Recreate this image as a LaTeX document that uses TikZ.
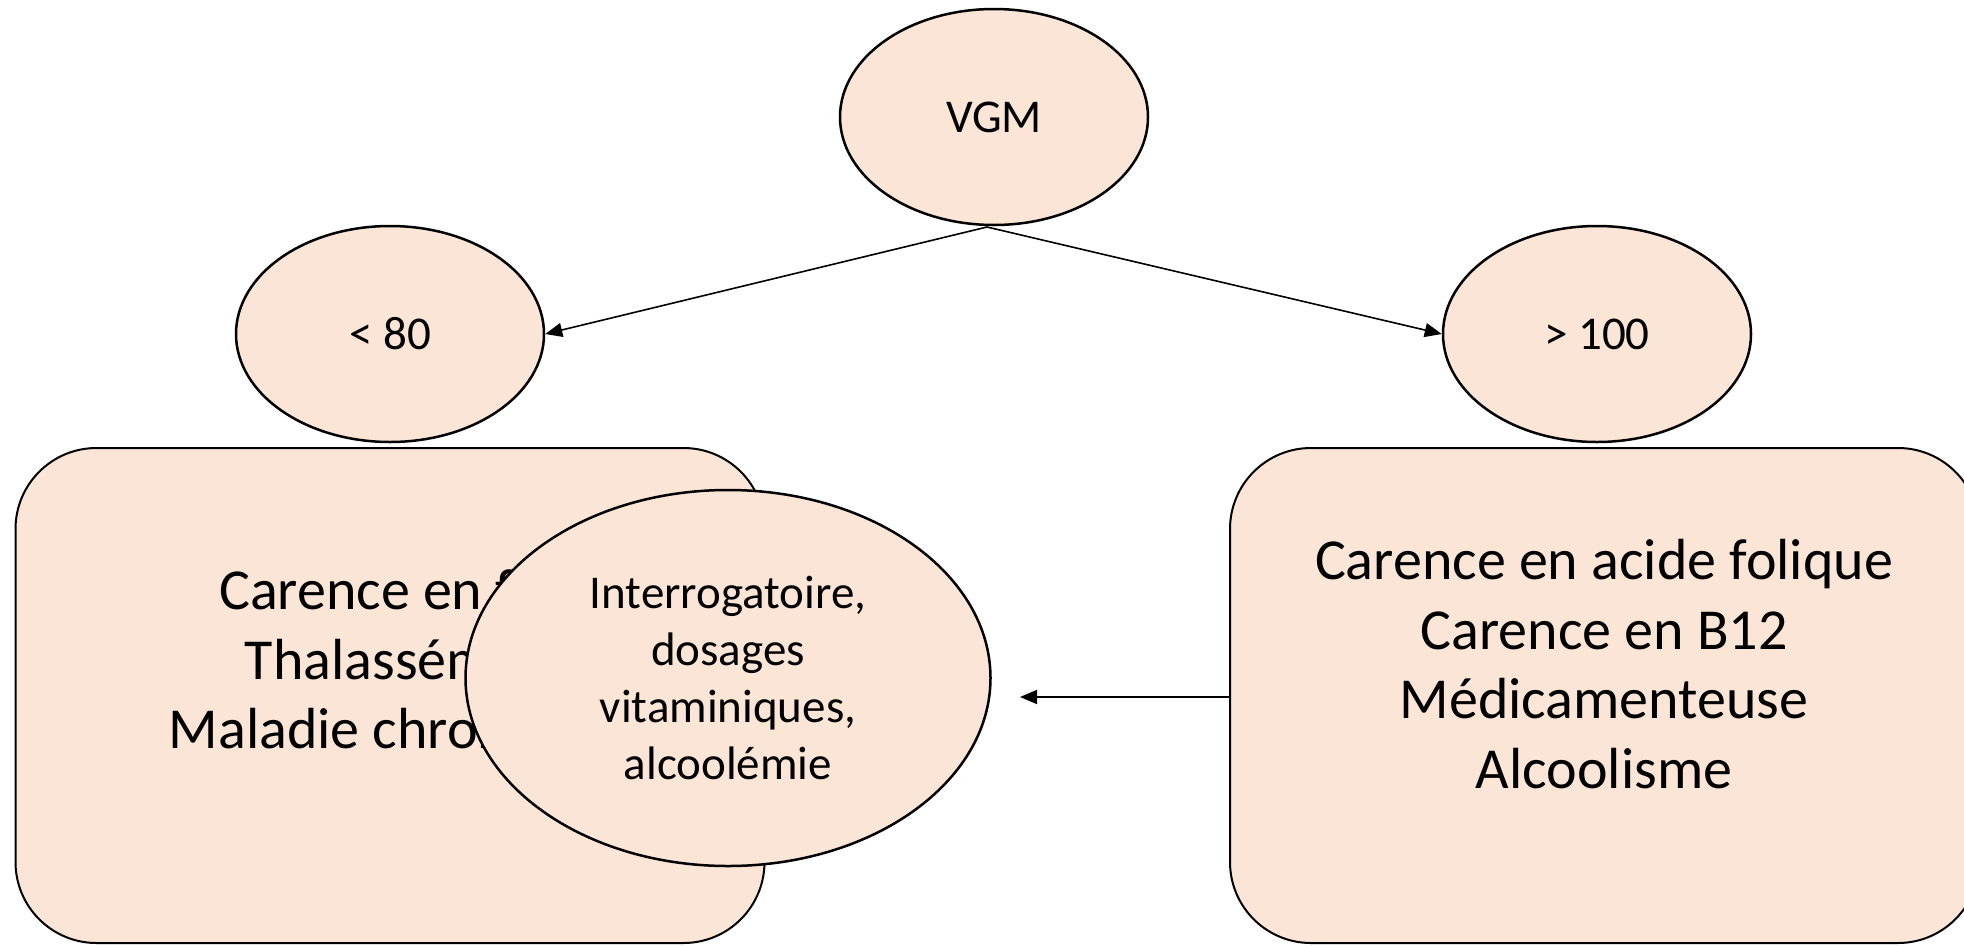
\documentclass[tikz,border=0pt]{standalone}
\usepackage{fontspec}
\setmainfont{Carlito}
\usetikzlibrary{shapes.geometric,arrows.meta}
\definecolor{peach}{HTML}{FBE5D6}
\tikzset{
  bubble/.style={ellipse, draw=black, line width=2.5pt, fill=peach, inner sep=0pt,
    font=\fontsize{47}{57}\selectfont, align=center},
  card/.style={rectangle, rounded corners=81pt, draw=black, line width=2pt, fill=peach, inner sep=0pt},
  cardtext/.style={font=\fontsize{58}{69.5}\selectfont, align=center, inner sep=0pt},
  link/.style={draw=black, line width=1.6pt, -{Triangle[length=17pt,width=14pt]}}
}
\begin{document}
\begin{tikzpicture}[x=1pt,y=-1pt]
  \useasboundingbox (0,0) rectangle (1964,945);
  \clip (0,0) rectangle (1964,945);

  % root and the two ranges
  \node[bubble, minimum width=308pt, minimum height=216pt] (vgm) at (994,117) {VGM};
  \node[bubble, minimum width=308pt, minimum height=216pt] (low) at (390,334) {< 80};
  \node[bubble, minimum width=308pt, minimum height=216pt] (high) at (1597,334) {> 100};

  % cause boxes
  \node[card, minimum width=749pt, minimum height=495pt] (lbox) at (390,695.5) {};
  \node[cardtext] (ltext) at (390,664) {Carence en fer\\Thalassémie\\Maladie chronique};
  \node[card, minimum width=749pt, minimum height=495pt] (rbox) at (1604.5,695.5) {};
  \node[cardtext] (rtext) at (1604,664) {Carence en acide folique\\Carence en B12\\Médicamenteuse\\Alcoolisme};

  % work-up bubble over the left box
  \node[bubble, minimum width=525pt, minimum height=376pt] (exam) at (728,678)
    {Interrogatoire,\\dosages\\vitaminiques,\\alcoolémie};

  % connectors
  \coordinate (vgmfoot) at (987,227);
  \coordinate (examtip) at (1020,697);
  \draw[link] (vgmfoot) -- (low.east);
  \draw[link] (vgmfoot) -- (high.west);
  \draw[link] (rbox.west |- examtip) -- (examtip);
\end{tikzpicture}
\end{document}
